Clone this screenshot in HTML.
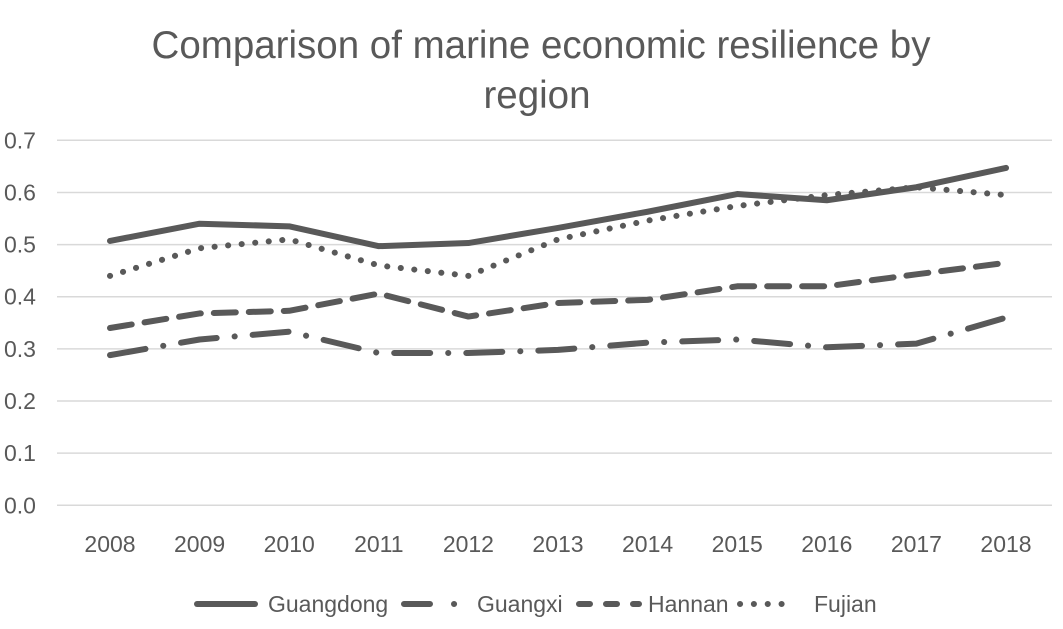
<!DOCTYPE html>
<html><head><meta charset="utf-8"><style>
body{margin:0;background:#fff;}
svg text{font-family:"Liberation Sans",sans-serif;fill:#595959;}
</style></head><body>
<svg width="1063" height="624">
<text x="541" y="58" text-anchor="middle" font-size="38.5">Comparison of marine economic resilience by</text>
<text x="537" y="108" text-anchor="middle" font-size="38.5">region</text>
<g id="grid"></g><g id="yt"></g><g id="xt"></g><g id="series"></g><g id="legend"></g>
</svg>
<script>
const years=["2008","2009","2010","2011","2012","2013","2014","2015","2016","2017","2018"];
const yTicks=[0,0.1,0.2,0.3,0.4,0.5,0.6,0.7];
const guangdong=[0.507,0.54,0.535,0.497,0.503,0.532,0.563,0.597,0.585,0.61,0.647];
const guangxi=[0.288,0.318,0.333,0.292,0.292,0.298,0.312,0.318,0.303,0.31,0.36];
const hannan=[0.34,0.368,0.373,0.406,0.362,0.388,0.394,0.42,0.42,0.443,0.465];
const fujian=[0.44,0.493,0.51,0.46,0.44,0.51,0.546,0.574,0.595,0.61,0.595];
const NS="http://www.w3.org/2000/svg";
const yb=505.3,yt=140.3;
const step=89.6;
const X=i=>110+step*i;
const Y=v=>yb-(v/0.7)*(yb-yt);
function mk(t,a,p){const e=document.createElementNS(NS,t);for(const k in a)e.setAttribute(k,a[k]);p.appendChild(e);return e;}
const grid=document.getElementById('grid'),ytg=document.getElementById('yt'),xtg=document.getElementById('xt');
yTicks.forEach(v=>{
 const l=mk('line',{x1:57,x2:1052,y1:Y(v),y2:Y(v),stroke:'#d9d9d9','stroke-width':1.5},grid);
 
 
 const t=mk('text',{x:4,y:Y(v)+8,'font-size':23},ytg);t.textContent=v.toFixed(1);
 
 
});
years.forEach((y,i)=>{
 const t=mk('text',{x:X(i),y:552,'font-size':23,'text-anchor':'middle'},xtg);t.textContent=y;
 
 
});
const defs=[
 {n:'Guangdong',d:guangdong,dash:'none',ldash:'none'},
 {n:'Guangxi',d:guangxi,dash:'36 18 0.1 18',ldash:'26 24 0.1 40'},
 {n:'Hannan',d:hannan,dash:'22 13',ldash:'11 16'},
 {n:'Fujian',d:fujian,dash:'0.1 13.5',ldash:'0.1 13.75'}
];
const sg=document.getElementById('series'),lg=document.getElementById('legend');
const lx=[197,404,579,740],lw=[58,51,60,55],tx=[268,477,648,814];
defs.forEach((s,k)=>{
 const p=mk('polyline',{points:s.d.map((v,i)=>X(i)+','+Y(v)).join(' '),fill:'none',stroke:'#595959','stroke-width':6,'stroke-linejoin':'round','stroke-linecap':'round','stroke-dasharray':s.dash},sg);
 
 
 const g=mk('g',{},lg);
 
 
 mk('line',{x1:lx[k],x2:lx[k]+lw[k],y1:604,y2:604,stroke:'#595959','stroke-width':6,'stroke-linecap':'round','stroke-dasharray':s.ldash},g);
 const t=mk('text',{x:tx[k],y:612,'font-size':23},g);t.textContent=s.n;
});
</script>
</body></html>
